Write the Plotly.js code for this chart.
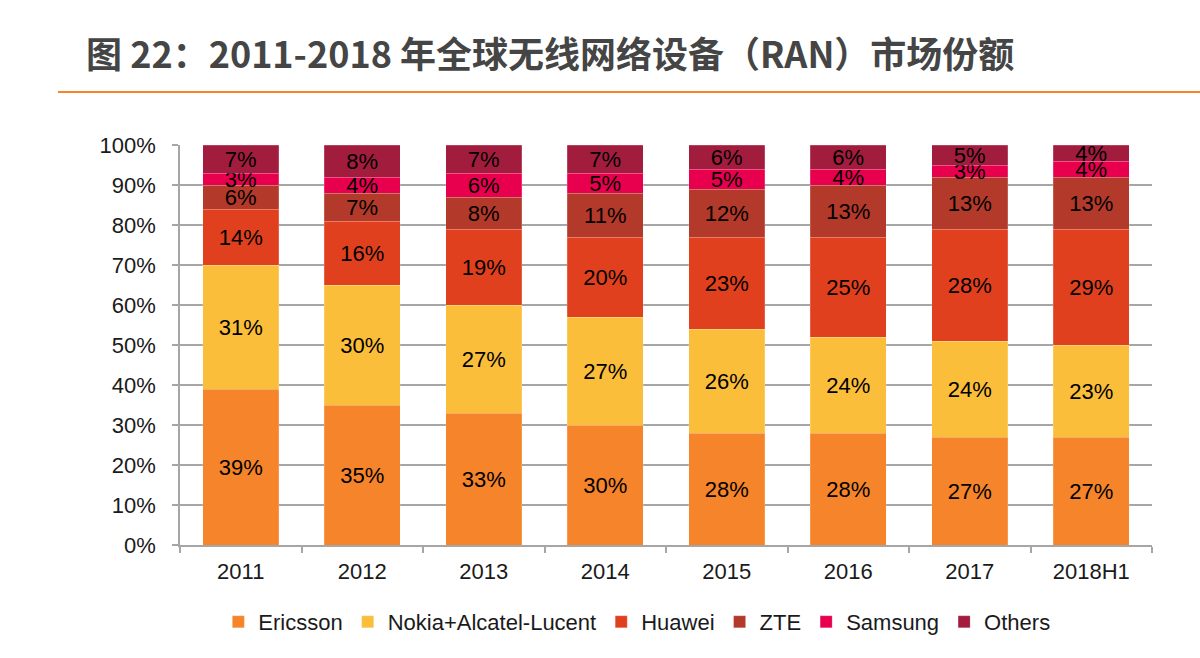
<!DOCTYPE html>
<html>
<head>
<meta charset="utf-8">
<script src="https://cdn.plot.ly/plotly-3.0.1.min.js"></script>
<style>
  html, body { margin: 0; padding: 0; background: #fff; }
  #chart { width: 1200px; height: 658px; }
</style>
</head>
<body>
<div id="chart"></div>
<script>
// years on the x axis
var years = ['2011', '2012', '2013', '2014', '2015', '2016', '2017', '2018H1'];

// market share per vendor, %
var ericsson = [39, 35, 33, 30, 28, 28, 27, 27];
var nokia    = [31, 30, 27, 27, 26, 24, 24, 23];
var huawei   = [14, 16, 19, 20, 23, 25, 28, 29];
var zte      = [6, 7, 8, 11, 12, 13, 13, 13];
var samsung  = [3, 4, 6, 5, 5, 4, 3, 4];
var others   = [7, 8, 7, 7, 6, 6, 5, 4];

var names  = ['Ericsson', 'Nokia+Alcatel-Lucent', 'Huawei', 'ZTE', 'Samsung', 'Others'];
var series = [ericsson, nokia, huawei, zte, samsung, others];
var colors = ['#F5842A', '#FBBE3A', '#E0401E', '#B3392A', '#E8004F', '#A21C3E'];

var data = [];
for (var i = 0; i < series.length; i++) {
  data.push({
    x: years,
    y: series[i],
    name: names[i],
    type: 'bar',
    marker: { color: colors[i], line: { color: 'rgba(255,255,255,0.35)', width: 0.5 } },
    text: series[i].map(function(v){ return v + '%'; }),
    textposition: 'inside',
    insidetextanchor: 'middle',
    constraintext: 'none',
    textangle: 0,
    textfont: { family: 'Liberation Sans, Arial, sans-serif', size: 22, color: '#000' },
    hovertemplate: '%{x} ' + names[i] + ': %{y}%<extra></extra>'
  });
}

var layout = {
  width: 1200,
  height: 658,
  barmode: 'stack',
  bargap: 0.375,
  paper_bgcolor: '#fff',
  plot_bgcolor: '#fff',
  margin: { l: 180, r: 48, t: 145, b: 113 },
  font: { family: 'Liberation Sans, Arial, sans-serif', size: 22, color: '#1a1a1a' },
  title: {
    text: '<b>图 22：2011-2018 年全球无线网络设备（RAN）市场份额</b>',
    font: { family: 'Noto Sans CJK SC, sans-serif', size: 36, color: '#454545' },
    x: 86 / 1200,
    xanchor: 'left',
    xref: 'container',
    y: 1 - 55 / 658,
    yanchor: 'middle',
    yref: 'container'
  },
  xaxis: {
    type: 'category',
    showline: true,
    linecolor: '#a6a6a6',
    linewidth: 1.5,
    ticks: 'outside',
    tickson: 'boundaries',
    ticklen: 6,
    tickcolor: '#a6a6a6',
    tickwidth: 1.5,
    ticklabelstandoff: 6,
    tickfont: { size: 22, color: '#1a1a1a' },
    fixedrange: true
  },
  yaxis: {
    range: [0, 100],
    dtick: 10,
    ticksuffix: '%',
    showgrid: true,
    gridcolor: '#a6a6a6',
    gridwidth: 1.5,
    zeroline: false,
    showline: true,
    linecolor: '#a6a6a6',
    linewidth: 1.5,
    ticks: 'outside',
    ticklen: 6,
    tickcolor: '#a6a6a6',
    tickwidth: 1.5,
    ticklabelstandoff: 12,
    tickfont: { size: 22, color: '#1a1a1a' },
    fixedrange: true
  },
  legend: {
    orientation: 'h',
    x: 0.47,
    xanchor: 'center',
    y: -0.14,
    yanchor: 'top',
    font: { size: 22, color: '#1a1a1a' },
    itemwidth: 30,
    traceorder: 'normal'
  },
  shapes: [{
    type: 'line',
    xref: 'paper', yref: 'paper',
    x0: (58 - 180) / 972, x1: (1200 - 180) / 972,
    y0: (545 - 92) / 400, y1: (545 - 92) / 400,
    line: { color: '#F5842A', width: 2 }
  }],
  showlegend: true
};

var config = { displayModeBar: false, responsive: false };

Plotly.newPlot('chart', data, layout, config);
</script>
</body>
</html>
